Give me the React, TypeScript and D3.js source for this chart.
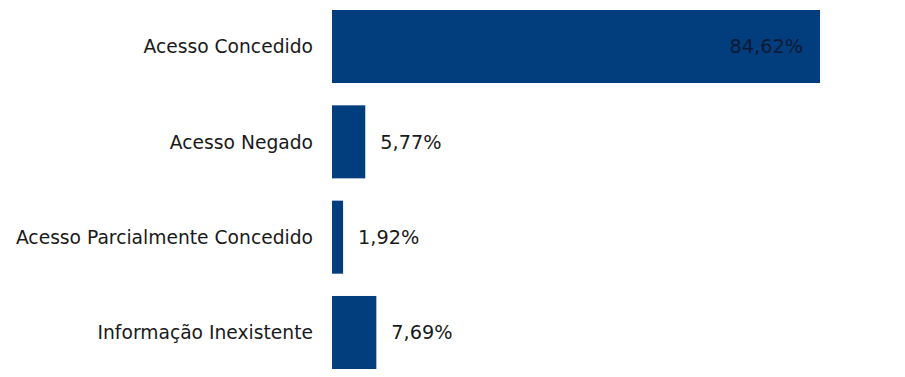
import React from "react";
import * as d3 from "d3";

const categories = [
  "Acesso Concedido",
  "Acesso Negado",
  "Acesso Parcialmente Concedido",
  "Informação Inexistente",
];
const values = [84.62, 5.77, 1.92, 7.69];
const valueLabels = ["84,62%", "5,77%", "1,92%", "7,69%"];

const W = 905;
const H = 377;
const x0 = 332;
const font = "'DejaVu Sans', Verdana, Tahoma, sans-serif";

export default function App() {
  const x = d3.scaleLinear().domain([0, 84.62]).range([x0, 820]);
  const y = d3
    .scaleBand<string>()
    .domain(categories)
    .range([10, 369])
    .paddingInner(0.234)
    .paddingOuter(0);
  const bw = y.bandwidth();
  return (
    <svg
      width={W}
      height={H}
      style={{ position: "absolute", left: 0, top: 0, background: "#fff" }}
    >
      {categories.map((c, i) => {
        const yy = y(c)!;
        const xe = x(values[i]);
        const inside = xe - x0 > 150;
        return (
          <g key={c}>
            <rect x={x0} y={yy} width={xe - x0} height={bw} fill="#023e7d" />
            <text
              x={313}
              y={yy + bw / 2}
              dy="0.36em"
              textAnchor="end"
              fontFamily={font}
              fontSize={18.7}
              fill="#1a1a1a"
            >
              {c}
            </text>
            <text
              x={inside ? xe - 17 : xe + 15}
              y={yy + bw / 2}
              dy="0.36em"
              textAnchor={inside ? "end" : "start"}
              fontFamily={font}
              fontSize={19.3}
              fill={inside ? "#0b1a35" : "#1a1a1a"}
            >
              {valueLabels[i]}
            </text>
          </g>
        );
      })}
    </svg>
  );
}
